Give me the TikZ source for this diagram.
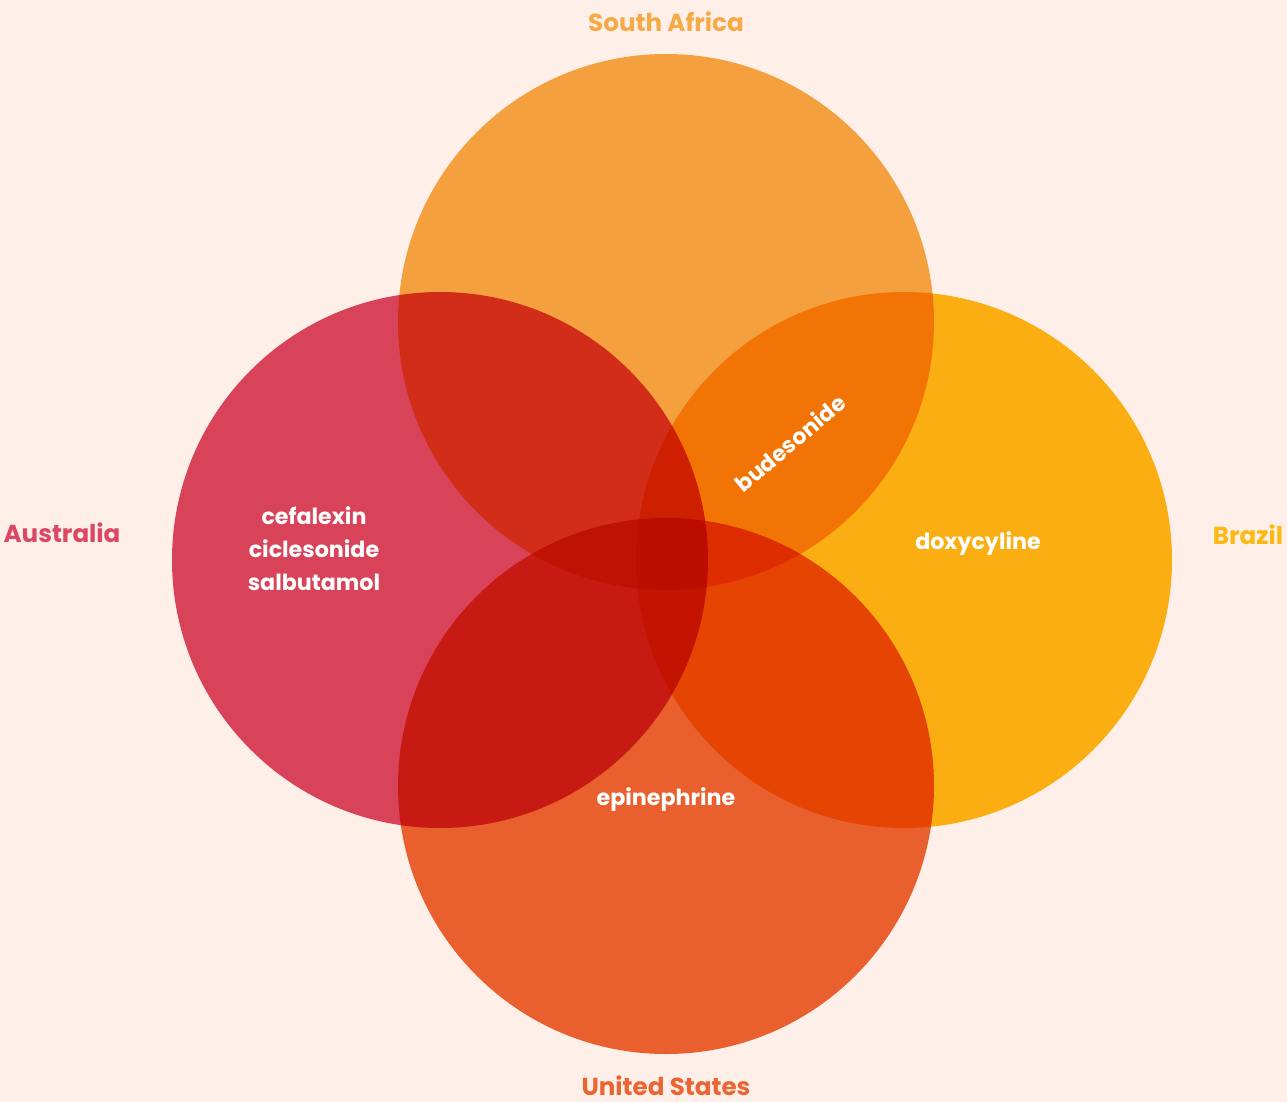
\documentclass[tikz,border=0pt]{standalone}
\usepackage{fontspec}
\setmainfont{Poppins}
\usetikzlibrary{positioning}

\definecolor{bgc}{HTML}{FEF0E8}
\definecolor{safr}{HTML}{F6AA46}
\definecolor{ausc}{HTML}{DA4863}
\definecolor{braz}{HTML}{FCB914}
\definecolor{usac}{HTML}{EA6533}

\begin{document}
\begin{tikzpicture}[x=0.5pt, y=-0.5pt,
		crcl/.style = {circle, draw=none, fill=#1,
			minimum size=268pt, inner sep=0pt},
		lbl/.style = {text=#1, font=\fontsize{12.3}{14}\selectfont\bfseries},
		itm/.style = {text=white, align=center,
			font=\fontsize{11.1}{16.5}\selectfont\bfseries}
	]
	\fill[bgc] (0,0) rectangle (1287,1102);
	\useasboundingbox (0,0) rectangle (1287,1102);

	\begin{scope}[blend mode=multiply]
		\node(sa) [crcl=safr] at (666, 322) {};
		\node(au) [crcl=ausc] at (440, 560) {};
		\node(br) [crcl=braz] at (904, 560) {};
		\node(us) [crcl=usac] at (666, 786) {};
	\end{scope}

	% set names
	\node(saL) [lbl=safr] at (666, 22) {South Africa};
	\node(auL) [lbl=ausc] at (62, 533) {Australia};
	\node(brL) [lbl=braz] at (1248, 535) {Brazil};
	\node(usL) [lbl=usac] at (666, 1086) {United States};

	% members
	\node(auI) [itm] at (314, 549) {cefalexin\\ciclesonide\\salbutamol};
	\node(brI) [itm] at (978, 544) {doxycyline};
	\node(usI) [itm] at (666, 800) {epinephrine};
	\node(sbI) [itm, rotate=40] at (790, 443) {budesonide};
\end{tikzpicture}
\end{document}
